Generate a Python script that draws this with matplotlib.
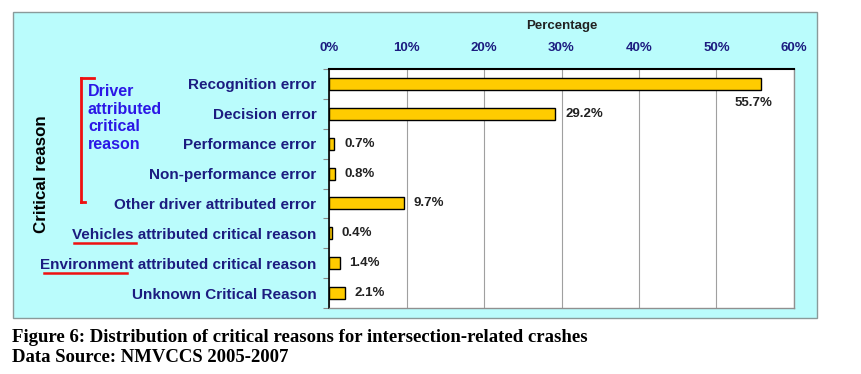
import matplotlib
matplotlib.use("Agg")
import matplotlib.pyplot as plt
from matplotlib.lines import Line2D
from matplotlib.patches import Rectangle

categories = [
    "Recognition error",
    "Decision error",
    "Performance error",
    "Non-performance error",
    "Other driver attributed error",
    "Vehicles attributed critical reason",
    "Environment attributed critical reason",
    "Unknown Critical Reason",
]
percent = [55.7, 29.2, 0.7, 0.8, 9.7, 0.4, 1.4, 2.1]
x_ticks = [0, 10, 20, 30, 40, 50, 60]
# first word to underline, with (start, end) trims in pixels
underlined = {"Vehicles attributed critical reason": ("Vehicles", 2, 2),
              "Environment attributed critical reason": ("Environment", 4, -7)}

W, H = 862, 374
NAVY = "#1c1c80"
SANS = "Liberation Sans"
LABEL_SIZE = 11

fig = plt.figure(figsize=(W / 100, H / 100), dpi=100)


def fx(px):
    return px / W


def fy(py):
    return 1 - py / H


# light cyan panel behind the chart
fig.patches.append(Rectangle((fx(13), fy(318)), fx(817) - fx(13), fy(12) - fy(318),
                             transform=fig.transFigure, facecolor="#bafcfc",
                             edgecolor="#8a9a9a", linewidth=1.0, zorder=-5))

ax = fig.add_axes([fx(329), fy(308), fx(794) - fx(329), fy(69) - fy(308)])
ax.set_zorder(3)
ax.set_facecolor("white")

y = list(range(len(categories)))
ax.barh(y, percent, height=0.4, color="#ffcc00", edgecolor="black", linewidth=1.0, zorder=3)

for i, v in enumerate(percent):
    label = f"{v:.1f}%"
    if i == 0:
        ax.annotate(label, (v, i), xytext=(-5, -14), textcoords="offset points",
                    ha="center", va="center", fontsize=9.5, fontweight="bold",
                    family=SANS, color="#222222")
    else:
        ax.annotate(label, (v, i), xytext=(7, 0), textcoords="offset points",
                    ha="left", va="center", fontsize=9.5, fontweight="bold",
                    family=SANS, color="#222222")

ax.set_xlim(0, 60)
ax.set_ylim(len(categories) - 0.5, -0.5)
ax.xaxis.tick_top()
ax.xaxis.set_label_position("top")
ax.set_xticks(x_ticks)
ax.set_xticklabels([f"{t}%" for t in x_ticks], family=SANS, fontweight="bold",
                   fontsize=9.5, color=NAVY)
ax.tick_params(axis="x", length=0, pad=11)
ax.set_xlabel("Percentage", family=SANS, fontweight="bold", fontsize=9.5,
              color="#222222", labelpad=9)

ax.set_yticks(y)
ax.set_yticklabels(categories, family=SANS, fontweight="bold", fontsize=LABEL_SIZE, color=NAVY)
ax.set_yticks([i - 0.5 for i in range(len(categories) + 1)], minor=True)
ax.tick_params(axis="y", which="major", length=0, pad=9)
ax.tick_params(axis="y", which="minor", length=4, color="#888888", width=0.8)

ax.grid(axis="x", color="#a0a0a0", linewidth=0.8, zorder=0)
ax.set_axisbelow(True)
ax.spines["top"].set_color("black")
ax.spines["top"].set_linewidth(1.5)
ax.spines["left"].set_color("black")
ax.spines["left"].set_linewidth(1.2)
for side in ("right", "bottom"):
    ax.spines[side].set_color("#909090")
    ax.spines[side].set_linewidth(1.0)

fig.text(fx(42), fy(174), "Critical reason", rotation=90, ha="center", va="center",
         family=SANS, fontweight="bold", fontsize=12.2, color="black")

fig.text(fx(88), fy(84), "Driver\nattributed\ncritical\nreason", ha="left", va="top",
         family=SANS, fontweight="bold", fontsize=11.5, color="#2b17e6", linespacing=1.22)

# red bracket around the driver-attributed rows
red = "#ee1111"
for xs, ys in [((81, 81), (78, 202)), ((81, 94), (78, 78)), ((81, 85), (202, 202))]:
    fig.add_artist(Line2D([fx(v) for v in xs], [fy(v) for v in ys], color=red,
                          linewidth=2.0, transform=fig.transFigure))

# red underline below the first word of two labels
fig.canvas.draw()
renderer = fig.canvas.get_renderer()
for tl in ax.get_yticklabels():
    entry = underlined.get(tl.get_text())
    if entry is None:
        continue
    word, trim0, trim1 = entry
    bb = tl.get_window_extent(renderer)
    probe = fig.text(0, 0, word, family=SANS, fontweight="bold", fontsize=LABEL_SIZE)
    wb = probe.get_window_extent(renderer)
    probe.remove()
    y0 = bb.y0 - 1
    fig.add_artist(Line2D([(bb.x0 + trim0) / W, (bb.x0 + wb.width + trim1) / W],
                          [y0 / H, y0 / H], color=red, linewidth=1.8,
                          transform=fig.transFigure))

fig.text(fx(12), fy(338), "Figure 6: Distribution of critical reasons for intersection-related crashes",
         ha="left", va="center", family="Liberation Serif", fontweight="bold",
         fontsize=13.5, color="black")
fig.text(fx(12), fy(358), "Data Source: NMVCCS 2005-2007", ha="left", va="center",
         family="Liberation Serif", fontweight="bold", fontsize=13.5, color="black")

fig.savefig("out.png", dpi=100)
